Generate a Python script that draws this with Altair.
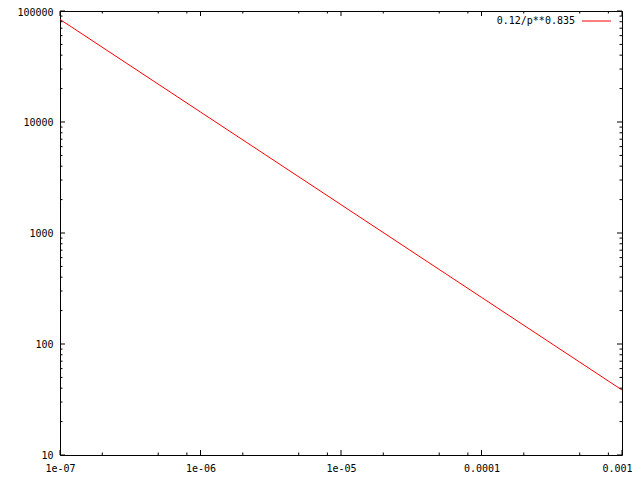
import altair as alt
import pandas as pd

# Values
p_values = [1e-7, 1e-6, 1e-5, 1e-4, 1e-3]
f_values = [84000, 12300, 1800, 263, 38.5]
series_name = "0.12/p**0.835"

x_major = [1e-7, 1e-6, 1e-5, 1e-4, 1e-3]
x_labels = ["1e-07", "1e-06", "1e-05", "0.0001", "0.001"]
x_minor = [2e-7, 5e-7, 8e-7, 2e-6, 5e-6, 8e-6, 2e-5, 5e-5, 8e-5, 2e-4, 5e-4, 8e-4]

y_major = [10, 100, 1000, 10000, 100000]
y_labels = ["10", "100", "1000", "10000", "100000"]
y_minor = [20, 30, 40, 50, 60, 70, 80, 90,
           200, 300, 400, 500, 600, 700, 800, 900,
           2000, 3000, 4000, 5000, 6000, 7000, 8000, 9000,
           20000, 30000, 40000, 50000, 60000, 70000, 80000, 90000]

W, H = 562, 444
FONT = "DejaVu Sans Mono"

line_df = pd.DataFrame({"p": p_values, "f": f_values})
xs = alt.Scale(type="log", domain=[1e-7, 1e-3], nice=False)
ys = alt.Scale(type="log", domain=[10, 100000], nice=False)


def build_expr(vals, labels):
    expr = f"'{labels[-1]}'"
    for v, l in reversed(list(zip(vals[:-1], labels[:-1]))):
        expr = f"datum.value < {v * 3} ? '{l}' : {expr}"
    return expr


x_axis = alt.Axis(values=x_major, labelExpr=build_expr(x_major, x_labels), grid=False,
                  ticks=False, domain=False, labelFont=FONT, labelFontSize=10,
                  labelColor="black", labelPadding=8, title=None, labelFlush=False,
                  labelOverlap=False,
                  labelOffset={"condition": {"test": f"datum.value > {x_major[-1] / 3}", "value": -5},
                               "value": 0})
y_axis = alt.Axis(values=y_major, labelExpr=build_expr(y_major, y_labels), grid=False,
                  ticks=False, domain=False, labelFont=FONT, labelFontSize=10,
                  labelColor="black", labelPadding=7, title=None, labelFlush=False,
                  labelOverlap=False,
                  labelOffset={"condition": {"test": f"datum.value > {y_major[-1] / 3}", "value": 1},
                               "value": 0})

line = alt.Chart(line_df).mark_line(color="#ff0000", strokeWidth=1, clip=True).encode(
    x=alt.X("p:Q", scale=xs, axis=x_axis, title=None),
    y=alt.Y("f:Q", scale=ys, axis=y_axis, title=None),
)


def xticks(vals, length):
    df = pd.DataFrame({"v": vals})
    base = alt.Chart(df).mark_rule(color="black", strokeWidth=1)
    enc_x = alt.X("v:Q", scale=xs, axis=x_axis, title=None)
    bottom = base.encode(x=enc_x, y=alt.value(H), y2=alt.value(H - length))
    top = base.encode(x=enc_x, y=alt.value(0), y2=alt.value(length))
    return [bottom, top]


def yticks(vals, length):
    df = pd.DataFrame({"v": vals})
    base = alt.Chart(df).mark_rule(color="black", strokeWidth=1)
    enc_y = alt.Y("v:Q", scale=ys, axis=y_axis, title=None)
    left = base.encode(y=enc_y, x=alt.value(0), x2=alt.value(length))
    right = base.encode(y=enc_y, x=alt.value(W), x2=alt.value(W - length))
    return [left, right]


ticks = xticks(x_major, 5) + xticks(x_minor, 2.5) + yticks(y_major, 5) + yticks(y_minor, 2.5)

leg_df = pd.DataFrame({"label": [series_name]})
leg_text = alt.Chart(leg_df).mark_text(align="right", baseline="middle", font=FONT,
                                       fontSize=10, color="black").encode(
    text="label:N", x=alt.value(515), y=alt.value(10))
leg_line = alt.Chart(leg_df).mark_rule(color="#ff0000", strokeWidth=1).encode(
    x=alt.value(522), x2=alt.value(551), y=alt.value(10))

chart = alt.layer(line, *ticks, leg_text, leg_line).properties(
    width=W, height=H,
    autosize=alt.AutoSizeParams(type="none"),
    padding={"left": 52, "top": 3, "right": 10, "bottom": 17},
    background="white",
).configure_view(stroke="black", strokeWidth=1)

chart.save("out.html", embed_options={"renderer": "svg", "actions": False})
